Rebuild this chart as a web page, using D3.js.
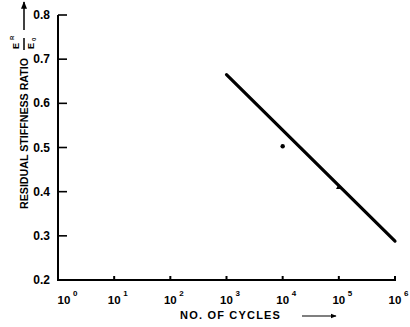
<!DOCTYPE html>
<meta charset="utf-8">
<head>
<style>
  body { margin: 0; background: #fff; }
  text { font-family: "Liberation Sans", Arial, sans-serif; font-weight: bold; fill: #000; }
</style>
</head>
<body>
<script src="https://cdn.jsdelivr.net/npm/d3@7"></script>
<script>

// fitted line (residual stiffness ratio vs cycles)
var lineCycles = [1e3, 1e6];
var lineRatio = [0.665, 0.288];

// isolated test points
var dotCycles = [1e4];
var dotRatio = [0.503];
var triCycles = [1e5];
var triRatio = [0.41];

var yTicks = [0.2, 0.3, 0.4, 0.5, 0.6, 0.7, 0.8];
var xExponents = [0, 1, 2, 3, 4, 5, 6];

var width = 410, height = 327;

var x = d3.scaleLog().domain([1, 1e6]).range([58, 395]);
var y = d3.scaleLinear().domain([0.2, 0.8]).range([280, 15]);

var svg = d3.select("body").append("svg")
    .attr("width", width)
    .attr("height", height);

svg.append("defs").append("marker")
    .attr("id", "head")
    .attr("viewBox", "0 0 10 10")
    .attr("refX", 9).attr("refY", 5)
    .attr("markerWidth", 5).attr("markerHeight", 5)
    .attr("orient", "auto")
  .append("path")
    .attr("d", "M0,1 L10,5 L0,9 Z")
    .attr("fill", "#000");

// axes lines
svg.append("line")
    .attr("x1", x(1)).attr("x2", x(1))
    .attr("y1", y(0.8)).attr("y2", y(0.2))
    .attr("stroke", "#000").attr("stroke-width", 2);
svg.append("line")
    .attr("x1", x(1) - 1).attr("x2", x(1e6) + 1)
    .attr("y1", y(0.2)).attr("y2", y(0.2))
    .attr("stroke", "#000").attr("stroke-width", 2);

// y ticks (pointing into the plot)
svg.selectAll(".ytick").data(yTicks.filter(function(t){ return t > 0.2; }))
  .enter().append("line")
    .attr("x1", x(1)).attr("x2", x(1) + 9)
    .attr("y1", function(t){ return y(t); })
    .attr("y2", function(t){ return y(t); })
    .attr("stroke", "#000").attr("stroke-width", 1.6);

svg.selectAll(".ylab").data(yTicks)
  .enter().append("text")
    .attr("x", 50)
    .attr("y", function(t){ return y(t) + 4; })
    .attr("text-anchor", "end")
    .style("font-size", "12px")
    .text(function(t){ return d3.format(".1f")(t); });

// x ticks
svg.selectAll(".xtick").data(xExponents.filter(function(e){ return e > 0; }))
  .enter().append("line")
    .attr("x1", function(e){ return x(Math.pow(10, e)); })
    .attr("x2", function(e){ return x(Math.pow(10, e)); })
    .attr("y1", y(0.2)).attr("y2", y(0.2) - 4)
    .attr("stroke", "#000").attr("stroke-width", 2);

var xl = svg.selectAll(".xlab").data(xExponents)
  .enter().append("g")
    .attr("transform", function(e){ return "translate(" + (x(Math.pow(10, e)) + (e == 0 ? 6 : 0)) + ",304)"; });
xl.append("text")
    .attr("text-anchor", "middle")
    .style("font-size", "11.5px")
    .text("10");
xl.append("text")
    .attr("x", 9).attr("y", -8)
    .style("font-size", "8px")
    .text(function(e){ return e; });

// x axis title + arrow
svg.append("text")
    .attr("x", 180).attr("y", 319)
    .style("font-size", "11px")
    .style("letter-spacing", "1.2px")
    .text("NO. OF CYCLES");
svg.append("line")
    .attr("x1", 302).attr("x2", 336)
    .attr("y1", 316).attr("y2", 316)
    .attr("stroke", "#000").attr("stroke-width", 1.2)
    .attr("marker-end", "url(#head)");

// y axis title (rotated) + fraction + arrow
var yt = svg.append("g").attr("transform", "rotate(-90)");
yt.append("text")
    .attr("x", -209).attr("y", 28)
    .attr("textLength", 151)
    .attr("lengthAdjust", "spacingAndGlyphs")
    .style("font-size", "11.5px")
    .text("RESIDUAL STIFFNESS RATIO");
yt.append("text")
    .attr("x", -49).attr("y", 19)
    .style("font-size", "9px")
    .text("E");
yt.append("text")
    .attr("x", -40).attr("y", 14)
    .style("font-size", "6px")
    .text("R");
yt.append("line")
    .attr("x1", -50).attr("x2", -38)
    .attr("y1", 24).attr("y2", 24)
    .attr("stroke", "#000").attr("stroke-width", 1.5);
yt.append("text")
    .attr("x", -49).attr("y", 34)
    .style("font-size", "9px")
    .text("E");
yt.append("text")
    .attr("x", -41).attr("y", 36)
    .style("font-size", "6px")
    .text("0");
svg.append("line")
    .attr("x1", 24).attr("x2", 24)
    .attr("y1", 30).attr("y2", 2)
    .attr("stroke", "#000").attr("stroke-width", 1.5)
    .attr("marker-end", "url(#head)");

// fitted line
var valueline = d3.line()
    .x(function(m){ return x(m[0]); })
    .y(function(m){ return y(m[1]); });

svg.append("path")
    .datum(d3.zip(lineCycles, lineRatio))
    .attr("fill", "none")
    .attr("stroke", "#000")
    .attr("stroke-width", 3.2)
    .attr("stroke-linecap", "round")
    .attr("d", valueline);

// points
svg.selectAll(".dot").data(d3.zip(dotCycles, dotRatio))
  .enter().append("circle")
    .attr("cx", function(m){ return x(m[0]); })
    .attr("cy", function(m){ return y(m[1]); })
    .attr("r", 2.2)
    .attr("fill", "#000");

svg.selectAll(".tri").data(d3.zip(triCycles, triRatio))
  .enter().append("path")
    .attr("transform", function(m){ return "translate(" + x(m[0]) + "," + y(m[1]) + ")"; })
    .attr("d", d3.symbol().type(d3.symbolTriangle).size(14))
    .attr("fill", "#000");

</script>
</body>
